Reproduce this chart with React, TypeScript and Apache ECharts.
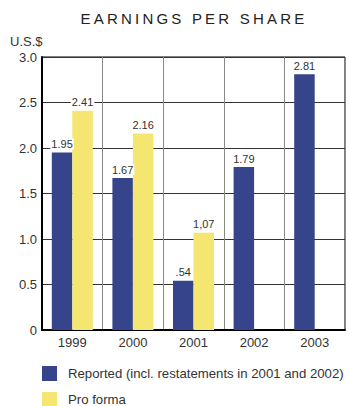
import React, { useEffect, useRef } from "react";
import * as echarts from "echarts";

const categories = ["1999", "2000", "2001", "2002", "2003"];
const reported = [1.95, 1.67, 0.54, 1.79, 2.81];
const proForma: (number | null)[] = [2.41, 2.16, 1.07, null, null];
const reportedLabels = ["1.95", "1.67", ".54", "1.79", "2.81"];
const proFormaLabels = ["2.41", "2.16", "1,07", "", ""];
const seriesNames = ["Reported (incl. restatements in 2001 and 2002)", "Pro forma"];
const titleText = "EARNINGS PER SHARE";
const unitText = "U.S.$";

const FONT = "'Liberation Sans', Arial, Helvetica, sans-serif";
const BLUE = "#36448C";
const YELLOW = "#F5E672";

export default function App() {
  const ref = useRef<HTMLDivElement>(null);
  useEffect(() => {
    document.body.style.margin = "0";
    const chart = echarts.init(ref.current!, undefined, { renderer: "svg" });
    const labelStyle = {
      show: true,
      position: "top" as const,
      distance: 3,
      fontSize: 11,
      color: "#333",
      fontFamily: FONT,
      backgroundColor: "#fff",
      padding: [0, 1, 0, 1],
    };
    const legendBase = {
      orient: "vertical" as const,
      left: 42,
      padding: 0,
      itemWidth: 15,
      itemHeight: 15,
      icon: "rect",
      textStyle: { fontSize: 13.2, color: "#333", fontFamily: FONT, padding: [0, 0, 0, 6] },
    };
    chart.setOption({
      animation: false,
      textStyle: { fontFamily: FONT },
      graphic: [
        {
          type: "text",
          left: 10,
          top: 35,
          style: { text: unitText, fontSize: 13, fill: "#333", fontFamily: FONT },
        },
      ],
      legend: [
        { ...legendBase, top: 366, data: [seriesNames[0]] },
        { ...legendBase, top: 392, data: [seriesNames[1]] },
      ],
      grid: {
        left: 42,
        right: 4,
        top: 57,
        bottom: 76,
        show: true,
        borderColor: "#000",
        borderWidth: 1,
      },
      xAxis: {
        type: "category",
        data: categories,
        axisTick: { show: false },
        axisLine: { lineStyle: { color: "#000", width: 2 } },
        axisLabel: { fontSize: 13, color: "#333", margin: 6, fontFamily: FONT },
        splitLine: { show: true, interval: 0, lineStyle: { color: "#888", width: 1 } },
      },
      yAxis: {
        type: "value",
        min: 0,
        max: 3,
        interval: 0.5,
        axisLine: { show: true, lineStyle: { color: "#000", width: 2 } },
        axisTick: { show: false },
        axisLabel: {
          fontSize: 13,
          color: "#333",
          margin: 5,
          fontFamily: FONT,
          formatter: (v: number) => (v === 0 ? "0" : v.toFixed(1)),
        },
        splitLine: { lineStyle: { color: "#333", width: 1 } },
      },
      series: [
        {
          name: seriesNames[0],
          type: "bar",
          data: reported,
          barWidth: 20.5,
          barGap: "0%",
          itemStyle: { color: BLUE },
          label: { ...labelStyle, formatter: (p: any) => reportedLabels[p.dataIndex] },
        },
        {
          name: seriesNames[1],
          type: "bar",
          data: proForma,
          barWidth: 20.5,
          barGap: "0%",
          itemStyle: { color: YELLOW },
          label: { ...labelStyle, formatter: (p: any) => proFormaLabels[p.dataIndex] },
        },
      ],
    });
    return () => chart.dispose();
  }, []);
  return (
    <div style={{ position: "relative", width: 349, height: 406, background: "#fff" }}>
      <div ref={ref} style={{ width: 349, height: 406 }} />
      <div
        style={{
          position: "absolute",
          left: 0,
          top: 11,
          width: 388,
          textAlign: "center",
          fontFamily: FONT,
          fontSize: 15,
          lineHeight: "15px",
          letterSpacing: "3.2px",
          color: "#222",
          pointerEvents: "none",
        }}
      >
        {titleText}
      </div>
    </div>
  );
}
